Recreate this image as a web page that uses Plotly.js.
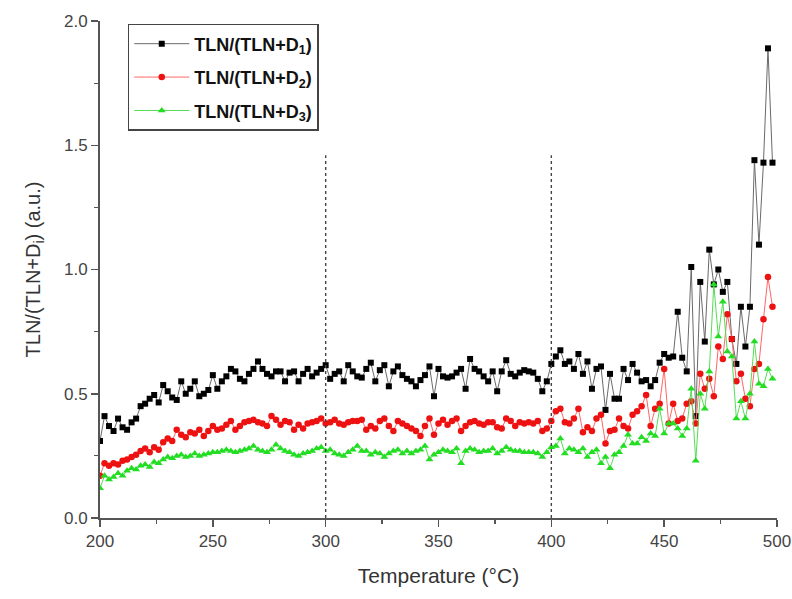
<!DOCTYPE html>
<html>
<head>
<meta charset="utf-8">
<script src="https://cdn.plot.ly/plotly-3.0.1.min.js"></script>
<style>
  html, body { margin: 0; padding: 0; background: #fff; }
  #chart { width: 792px; height: 599px; }
</style>
</head>
<body>
<div id="chart"></div>
<script>
// Temperature (°C)
const temperature = [
  200,202,204,206,208,210,212,214,216,218,
  220,222,224,226,228,230,232,234,236,238,
  240,242,244,246,248,250,252,254,256,258,
  260,262,264,266,268,270,272,274,276,278,
  280,282,284,286,288,290,292,294,296,298,
  300,302,304,306,308,310,312,314,316,318,
  320,322,324,326,328,330,332,334,336,338,
  340,342,344,346,348,350,352,354,356,358,
  360,362,364,366,368,370,372,374,376,378,
  380,382,384,386,388,390,392,394,396,398,
  400,402,404,406,408,410,412,414,416,418,
  420,422,424,426,428,430,432,434,436,438,
  440,442,444,446,448,450,452,454,456,458,
  460,462,464,466,468,470,472,474,476,478,
  480,482,484,486,488,490,492,494,496,498
];

// TLN/(TLN+D1)
const ratioD1 = [
  0.31,0.41,0.37,0.35,0.40,0.365,0.355,0.385,0.40,0.45,
  0.46,0.48,0.495,0.465,0.535,0.51,0.485,0.475,0.55,0.50,
  0.52,0.55,0.49,0.50,0.515,0.575,0.52,0.55,0.57,0.60,
  0.59,0.56,0.55,0.58,0.60,0.63,0.60,0.58,0.57,0.59,
  0.59,0.55,0.585,0.59,0.55,0.58,0.60,0.57,0.585,0.60,
  0.615,0.56,0.58,0.59,0.55,0.615,0.59,0.57,0.565,0.60,
  0.625,0.55,0.595,0.615,0.53,0.59,0.61,0.575,0.56,0.55,
  0.53,0.555,0.575,0.61,0.49,0.60,0.57,0.565,0.57,0.585,
  0.60,0.52,0.64,0.60,0.59,0.57,0.55,0.59,0.51,0.59,
  0.635,0.58,0.57,0.585,0.595,0.59,0.585,0.56,0.51,0.55,
  0.62,0.65,0.675,0.62,0.63,0.60,0.66,0.58,0.63,0.52,
  0.60,0.61,0.435,0.58,0.48,0.48,0.60,0.555,0.62,0.585,
  0.55,0.555,0.53,0.555,0.625,0.66,0.645,0.65,0.83,0.645,
  0.59,1.01,0.41,0.95,0.71,1.08,0.94,1.00,0.91,0.95,
  0.72,0.62,0.85,0.69,0.85,1.44,1.10,1.43,1.89,1.43
];

// TLN/(TLN+D2)
const ratioD2 = [
  0.17,0.22,0.21,0.22,0.215,0.23,0.235,0.245,0.255,0.27,
  0.28,0.265,0.285,0.275,0.305,0.32,0.31,0.355,0.335,0.325,
  0.345,0.34,0.355,0.33,0.35,0.37,0.355,0.36,0.375,0.39,
  0.355,0.37,0.385,0.39,0.395,0.385,0.38,0.37,0.41,0.395,
  0.375,0.39,0.385,0.355,0.375,0.36,0.38,0.385,0.39,0.40,
  0.38,0.385,0.395,0.38,0.375,0.385,0.39,0.39,0.395,0.355,
  0.37,0.36,0.39,0.40,0.37,0.35,0.39,0.38,0.37,0.36,
  0.35,0.33,0.37,0.40,0.335,0.38,0.395,0.375,0.39,0.40,
  0.35,0.37,0.385,0.39,0.38,0.375,0.385,0.385,0.365,0.36,
  0.40,0.39,0.37,0.385,0.38,0.385,0.38,0.39,0.35,0.36,
  0.39,0.43,0.44,0.385,0.38,0.40,0.44,0.345,0.365,0.35,
  0.40,0.415,0.30,0.35,0.355,0.40,0.37,0.36,0.415,0.43,
  0.45,0.495,0.37,0.44,0.46,0.60,0.38,0.46,0.39,0.40,
  0.46,0.47,0.38,0.58,0.52,0.56,0.49,0.69,0.64,0.82,
  0.72,0.55,0.58,0.48,0.45,0.60,0.62,0.80,0.97,0.85
];

// TLN/(TLN+D3)
const ratioD3 = [
  0.12,0.17,0.155,0.165,0.18,0.17,0.19,0.20,0.195,0.21,
  0.215,0.205,0.225,0.22,0.235,0.245,0.24,0.25,0.255,0.245,
  0.25,0.26,0.25,0.255,0.26,0.265,0.265,0.27,0.275,0.27,
  0.265,0.27,0.275,0.28,0.29,0.275,0.27,0.265,0.275,0.295,
  0.28,0.27,0.265,0.255,0.25,0.26,0.265,0.27,0.28,0.285,
  0.27,0.275,0.26,0.255,0.25,0.265,0.275,0.29,0.27,0.27,
  0.255,0.265,0.26,0.245,0.26,0.27,0.275,0.26,0.27,0.26,
  0.27,0.275,0.29,0.235,0.255,0.265,0.275,0.27,0.265,0.28,
  0.22,0.27,0.28,0.275,0.265,0.27,0.27,0.28,0.26,0.27,
  0.285,0.275,0.27,0.27,0.265,0.265,0.265,0.26,0.245,0.265,
  0.285,0.29,0.32,0.26,0.28,0.275,0.265,0.28,0.245,0.265,
  0.275,0.22,0.245,0.20,0.255,0.265,0.29,0.335,0.30,0.30,
  0.325,0.31,0.34,0.33,0.44,0.34,0.38,0.38,0.36,0.33,
  0.36,0.52,0.23,0.50,0.44,0.59,0.94,0.73,0.87,0.67,
  0.65,0.40,0.47,0.40,0.50,0.71,0.54,0.53,0.60,0.56
];

const seriesNames = [
  "TLN/(TLN+D<sub>1</sub>)",
  "TLN/(TLN+D<sub>2</sub>)",
  "TLN/(TLN+D<sub>3</sub>)"
];
const referenceTemps = [300, 400];
const referenceTop = 1.46;
const xTicks = [200, 250, 300, 350, 400, 450, 500];
const yTicks = [0, 0.5, 1.0, 1.5, 2.0];
const yTickLabels = ["0.0", "0.5", "1.0", "1.5", "2.0"];

const fontFamily = "Arial, 'Liberation Sans', sans-serif";

function makeTrace(y, name, markerColor, lineColor, symbol, size, group) {
  return {
    x: temperature, y: y, name: name, type: "scatter", mode: "lines+markers",
    legendgroup: group,
    line: { color: lineColor, width: 1 },
    marker: { color: markerColor, symbol: symbol, size: size, line: { width: 0 } }
  };
}

const traces = [
  makeTrace(ratioD1, seriesNames[0], "#000000", "#6a6a6a", "square", 6, "g1"),
  makeTrace(ratioD2, seriesNames[1], "#ee1111", "#ff6666", "circle", 6.5, "g2"),
  makeTrace(ratioD3, seriesNames[2], "#22dd22", "#55dd55", "triangle-up", 7, "g3")
];

const shapes = referenceTemps.map(t => ({
  type: "line", xref: "x", yref: "y", x0: t, x1: t, y0: 0, y1: referenceTop,
  line: { color: "#444444", width: 1.4, dash: "dot" }
}));

const layout = {
  width: 792, height: 599,
  margin: { l: 100, r: 15, t: 21, b: 81 },
  paper_bgcolor: "#ffffff", plot_bgcolor: "#ffffff",
  font: { family: fontFamily, color: "#333333" },
  showlegend: true,
  legend: {
    x: 0.041, y: 0.994, xanchor: "left", yanchor: "top",
    bgcolor: "#ffffff", bordercolor: "#444444", borderwidth: 1.5,
    font: { family: fontFamily, size: 18, color: "#111111", weight: "bold" },
    traceorder: "grouped", tracegroupgap: 7,
    itemwidth: 55
  },
  xaxis: {
    range: [200, 500], tickvals: xTicks, ticktext: xTicks.map(String),
    ticks: "outside", ticklen: 7, tickwidth: 1.5, tickcolor: "#555555",
    minor: { dtick: 25, ticks: "outside", ticklen: 4, tickwidth: 1.2, tickcolor: "#555555" },
    showline: true, linecolor: "#555555", linewidth: 2, mirror: false,
    showgrid: false, zeroline: false,
    tickfont: { size: 17, color: "#444444" },
    title: { text: "Temperature (°C)", font: { size: 21, color: "#333333" }, standoff: 18 }
  },
  yaxis: {
    range: [0, 2.0], tickvals: yTicks, ticktext: yTickLabels,
    ticks: "outside", ticklen: 7, tickwidth: 1.5, tickcolor: "#555555",
    minor: { dtick: 0.25, ticks: "outside", ticklen: 4, tickwidth: 1.2, tickcolor: "#555555" },
    showline: true, linecolor: "#555555", linewidth: 2, mirror: false,
    showgrid: false, zeroline: false,
    tickfont: { size: 17, color: "#444444" },
    title: { text: "TLN/(TLN+D<sub>i</sub>) (a.u.)", font: { size: 20, color: "#333333" }, standoff: 18 }
  },
  shapes: shapes
};

Plotly.newPlot("chart", traces, layout, { displayModeBar: false, staticPlot: true });
</script>
</body>
</html>
